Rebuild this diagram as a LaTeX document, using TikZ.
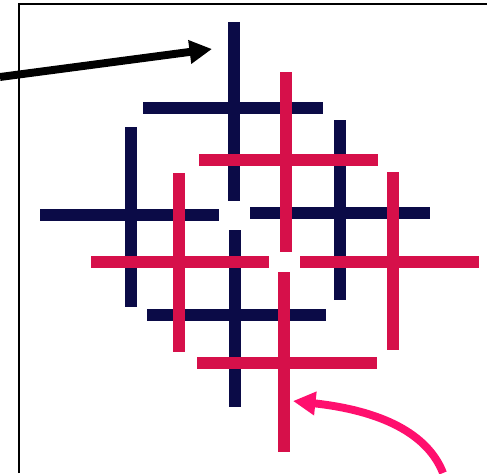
\documentclass[tikz,border=0pt]{standalone}
\usepackage{tikz}
\usetikzlibrary{arrows.meta}
\usepackage{xcolor}
\definecolor{crossnavy}{HTML}{0B0B47}
\definecolor{crossred}{HTML}{D6104A}
\definecolor{pointpink}{HTML}{FF0F6E}

\begin{document}
\begin{tikzpicture}[>={Triangle[length=4.5mm,width=4.5mm]},line cap=butt,
  navybar/.style={crossnavy,line width=0.24cm},
  redbar/.style={crossred,line width=0.24cm},
  pointer/.style={->,line width=4.5pt}]
\useasboundingbox (0,0) rectangle (9.74,9.46);
\draw[line width=1.1pt] (0.38,0) -- (0.38,9.38) -- (9.74,9.38);
% navy crosses
\draw[navybar] (4.68,9.02) -- (4.68,5.44);
\draw[navybar] (2.86,7.30) -- (6.46,7.30);
\draw[navybar] (2.62,6.92) -- (2.62,3.32);
\draw[navybar] (0.80,5.16) -- (4.38,5.16);
\draw[navybar] (6.80,7.06) -- (6.80,3.46);
\draw[navybar] (5.00,5.20) -- (8.60,5.20);
\draw[navybar] (4.70,4.86) -- (4.70,1.32);
\draw[navybar] (2.94,3.16) -- (6.52,3.16);
% red crosses
\draw[redbar] (5.72,8.02) -- (5.72,4.42);
\draw[redbar] (3.98,6.26) -- (7.56,6.26);
\draw[redbar] (3.58,6.00) -- (3.58,2.42);
\draw[redbar] (1.82,4.22) -- (5.38,4.22);
\draw[redbar] (7.86,6.02) -- (7.86,2.46);
\draw[redbar] (6.00,4.22) -- (9.58,4.22);
\draw[redbar] (5.68,4.02) -- (5.68,0.42);
\draw[redbar] (3.94,2.20) -- (7.54,2.20);
% pointers
\coordinate (blacktail) at (0,7.92);
\coordinate (blacktip) at (4.24,8.48);
\coordinate (pinktail) at (8.86,0);
\coordinate (pinktip) at (5.86,1.44);
\draw[pointer] (blacktail) -- (blacktip);
\draw[pointer,pointpink] (pinktail) .. controls (8.55,0.8) and (7.6,1.25) .. (pinktip);
\end{tikzpicture}
\end{document}
